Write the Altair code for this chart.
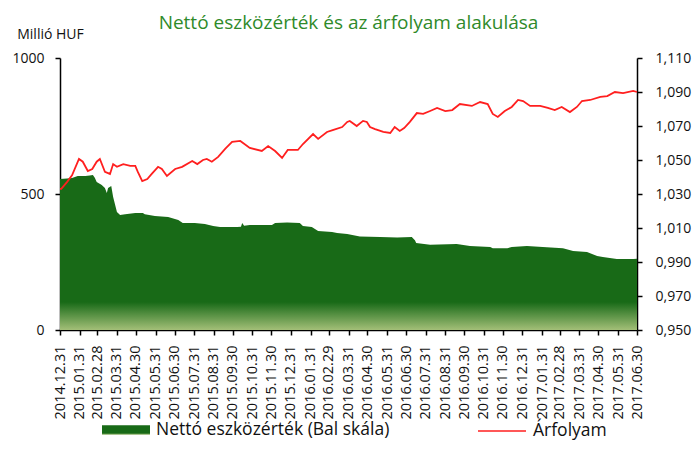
import altair as alt
import pandas as pd

TITLE = "Nettó eszközérték és az árfolyam alakulása"
NAV_NAME = "Nettó eszközérték (Bal skála)"
FX_NAME = "Árfolyam"
LEFT_TITLE = "Millió HUF"

X_TICK_LABELS = ["2014.12.31", "2015.01.31", "2015.02.28", "2015.03.31", "2015.04.30",
                 "2015.05.31", "2015.06.30", "2015.07.31", "2015.08.31", "2015.09.30",
                 "2015.10.31", "2015.11.30", "2015.12.31", "2016.01.31", "2016.02.29",
                 "2016.03.31", "2016.04.30", "2016.05.31", "2016.06.30", "2016.07.31",
                 "2016.08.31", "2016.09.30", "2016.10.31", "2016.11.30", "2016.12.31",
                 "2017.01.31", "2017.02.28", "2017.03.31", "2017.04.30", "2017.05.31",
                 "2017.06.30"]
LEFT_TICKS = [0, 500, 1000]
RIGHT_TICKS = [0.95, 0.97, 0.99, 1.01, 1.03, 1.05, 1.07, 1.09, 1.11]

NAV_DATES = ["2014-12-31", "2015-01-11", "2015-01-19", "2015-01-28", "2015-02-09", "2015-02-16",
             "2015-02-21", "2015-02-24", "2015-02-27", "2015-03-07", "2015-03-12", "2015-03-15",
             "2015-03-17", "2015-03-22", "2015-03-25", "2015-03-31", "2015-04-05", "2015-04-13",
             "2015-04-29", "2015-05-11", "2015-05-14", "2015-05-30", "2015-06-20", "2015-07-06",
             "2015-07-13", "2015-08-01", "2015-08-17", "2015-08-30", "2015-09-10", "2015-10-07",
             "2015-10-13", "2015-10-15", "2015-10-18", "2015-10-27", "2015-11-12", "2015-12-01",
             "2015-12-06", "2015-12-25", "2016-01-14", "2016-01-19", "2016-02-02", "2016-02-12",
             "2016-03-05", "2016-03-13", "2016-03-29", "2016-04-18", "2016-05-20", "2016-06-16",
             "2016-07-09", "2016-07-14", "2016-07-16", "2016-08-07", "2016-09-18", "2016-10-09",
             "2016-11-10", "2016-11-14", "2016-12-07", "2016-12-14", "2017-01-07", "2017-02-01",
             "2017-03-05", "2017-03-21", "2017-04-12", "2017-04-28", "2017-05-07", "2017-05-29",
             "2017-06-24", "2017-06-30"]
NAV_VALUES = [555, 557, 559, 566, 566, 568, 570, 560, 544, 533,
              522, 504, 522, 529, 489, 434, 423, 426, 430, 430,
              426, 419, 415, 404, 393, 393, 390, 382, 379, 379,
              380, 393, 383, 386, 386, 386, 393, 395, 393, 382,
              379, 364, 360, 357, 353, 344, 342, 340, 342, 330,
              320, 313, 316, 309, 305, 301, 301, 305, 309, 305,
              301, 290, 287, 272, 268, 261, 261, 262]

FX_DATES = ["2014-12-31", "2015-01-02", "2015-01-11", "2015-01-19", "2015-01-30", "2015-02-05",
            "2015-02-13", "2015-02-20", "2015-02-27", "2015-03-04", "2015-03-12", "2015-03-20",
            "2015-03-25", "2015-03-31", "2015-04-10", "2015-04-21", "2015-04-29", "2015-05-03",
            "2015-05-10", "2015-05-18", "2015-05-25", "2015-06-04", "2015-06-10", "2015-06-18",
            "2015-07-01", "2015-07-12", "2015-07-28", "2015-08-05", "2015-08-14", "2015-08-20",
            "2015-08-28", "2015-09-07", "2015-09-18", "2015-09-29", "2015-10-12", "2015-10-27",
            "2015-11-15", "2015-11-25", "2015-12-06", "2015-12-17", "2015-12-26", "2016-01-11",
            "2016-01-19", "2016-02-04", "2016-02-12", "2016-02-26", "2016-03-06", "2016-03-21",
            "2016-03-29", "2016-04-02", "2016-04-13", "2016-04-23", "2016-04-29", "2016-05-04",
            "2016-05-12", "2016-05-25", "2016-06-05", "2016-06-12", "2016-06-20", "2016-06-27",
            "2016-07-06", "2016-07-17", "2016-07-27", "2016-08-07", "2016-08-18", "2016-08-31",
            "2016-09-11", "2016-09-23", "2016-10-12", "2016-10-25", "2016-11-06", "2016-11-14",
            "2016-11-22", "2016-12-03", "2016-12-14", "2016-12-24", "2017-01-01", "2017-01-12",
            "2017-01-28", "2017-02-09", "2017-02-20", "2017-03-03", "2017-03-16", "2017-03-27",
            "2017-04-04", "2017-04-17", "2017-05-03", "2017-05-14", "2017-05-26", "2017-06-08",
            "2017-06-24", "2017-06-30"]
FX_VALUES = [1.033, 1.033, 1.037, 1.041, 1.0506, 1.049, 1.0435, 1.0447, 1.049, 1.0506,
             1.043, 1.0418, 1.0476, 1.046, 1.0476, 1.0465, 1.0465, 1.043, 1.0376, 1.0388,
             1.0418, 1.046, 1.0447, 1.0406, 1.0447, 1.046, 1.0494, 1.0476, 1.050, 1.0506,
             1.049, 1.0518, 1.0565, 1.0606, 1.0612, 1.0571, 1.0553, 1.0582, 1.0553, 1.0512,
             1.0559, 1.0559, 1.0594, 1.0653, 1.0624, 1.0665, 1.0676, 1.0694, 1.0724, 1.073,
             1.070, 1.073, 1.0724, 1.0694, 1.0682, 1.0665, 1.0659, 1.0694, 1.0671, 1.0688,
             1.0724, 1.0776, 1.0771, 1.0788, 1.0806, 1.0788, 1.0794, 1.0829, 1.0818, 1.0841,
             1.0829, 1.0771, 1.0753, 1.0788, 1.0812, 1.0853, 1.0847, 1.0818, 1.0818, 1.0806,
             1.0794, 1.0812, 1.0782, 1.0812, 1.0847, 1.0853, 1.0871, 1.0876, 1.090, 1.0894,
             1.0906, 1.090]

GREEN = "#186a17"
GREEN_LIGHT = "#a3bf78"
RED = "#ff1f1f"
FONT = "Open Sans"

nav_df = pd.DataFrame({"date": NAV_DATES, "nav": NAV_VALUES, "series": NAV_NAME})
fx_df = pd.DataFrame({"date": FX_DATES, "fx": FX_VALUES, "series": FX_NAME})


def to_dt(label):
    y, m, d = (int(p) for p in label.split("."))
    return alt.DateTime(year=y, month=m, date=d, utc=True)


x_enc = alt.X(
    "date:T",
    scale=alt.Scale(type="utc", domain=[to_dt(X_TICK_LABELS[0]), to_dt(X_TICK_LABELS[-1])], nice=False),
    axis=alt.Axis(
        values=[to_dt(l) for l in X_TICK_LABELS],
        labelExpr="utcFormat(datum.value, '%Y.%m.%d')",
        labelAngle=-90, labelAlign="right", labelBaseline="middle",
        labelOverlap=False, labelFlush=False, labelFontSize=14.5, labelPadding=10,
        tickSize=5, title=None, grid=False,
    ),
)

gradient = alt.Gradient(
    gradient="linear",
    stops=[alt.GradientStop(color=GREEN, offset=0),
           alt.GradientStop(color=GREEN, offset=0.82),
           alt.GradientStop(color=GREEN_LIGHT, offset=1)],
    x1=1, x2=1, y1=0, y2=1,
)

area = alt.Chart(nav_df).mark_area(fill=gradient).encode(
    x=x_enc,
    y=alt.Y("nav:Q", scale=alt.Scale(domain=[0, 1000], nice=False),
            axis=alt.Axis(orient="left", values=LEFT_TICKS, format="d", grid=False,
                          tickSize=5, labelPadding=11, labelFontSize=14,
                          title=LEFT_TITLE, titleAngle=0, titleX=-10, titleY=-24,
                          titleAlign="center", titleBaseline="middle",
                          titleFontSize=14, titleFontWeight="normal")),
    opacity=alt.Opacity("series:N", scale=alt.Scale(domain=[NAV_NAME], range=[1.0]),
                        legend=alt.Legend(orient="none", legendX=42, legendY=348, title=None,
                                          symbolType="M-1,-0.2H1V0.2H-1Z", symbolSize=2304,
                                          symbolFillColor=GREEN, symbolStrokeWidth=0,
                                          labelFontSize=17.5, labelOffset=6, padding=0,
                                          labelLimit=400)),
)

line = alt.Chart(fx_df).mark_line(strokeWidth=1.8).encode(
    x=x_enc,
    y=alt.Y("fx:Q", scale=alt.Scale(domain=[0.95, 1.11], nice=False, zero=False),
            axis=alt.Axis(orient="right", values=RIGHT_TICKS, grid=False, title=None,
                          labelExpr="replace(format(datum.value, '.3f'), '.', ',')",
                          tickSize=5, labelPadding=13, labelFontSize=14)),
    color=alt.Color("series:N", scale=alt.Scale(domain=[FX_NAME], range=[RED]),
                    legend=alt.Legend(orient="none", legendX=417, legendY=348, title=None,
                                      symbolType="stroke", symbolSize=2304,
                                      symbolStrokeWidth=1.6, labelFontSize=17.5,
                                      labelOffset=6, padding=0)),
)

chart = (
    alt.layer(area, line)
    .resolve_scale(y="independent")
    .properties(
        width=577, height=272,
        title=alt.TitleParams(text=TITLE, color="#2f8a2a", fontSize=19, font=FONT,
                              fontWeight="normal", anchor="middle", baseline="bottom",
                              offset=0, dy=25),
        autosize=alt.AutoSizeParams(type="none"),
        padding={"left": 52, "top": 50, "right": 55, "bottom": 112},
    )
    .configure_view(stroke=None)
    .configure_axis(labelFont=FONT, titleFont=FONT, labelColor="#111111", titleColor="#111111",
                    domainColor="#000000", tickColor="#000000", domainWidth=1.5, tickWidth=1.5)
    .configure_legend(labelFont=FONT, labelColor="#111111")
)

chart.save("out.html", embed_options={"renderer": "svg", "actions": False})
